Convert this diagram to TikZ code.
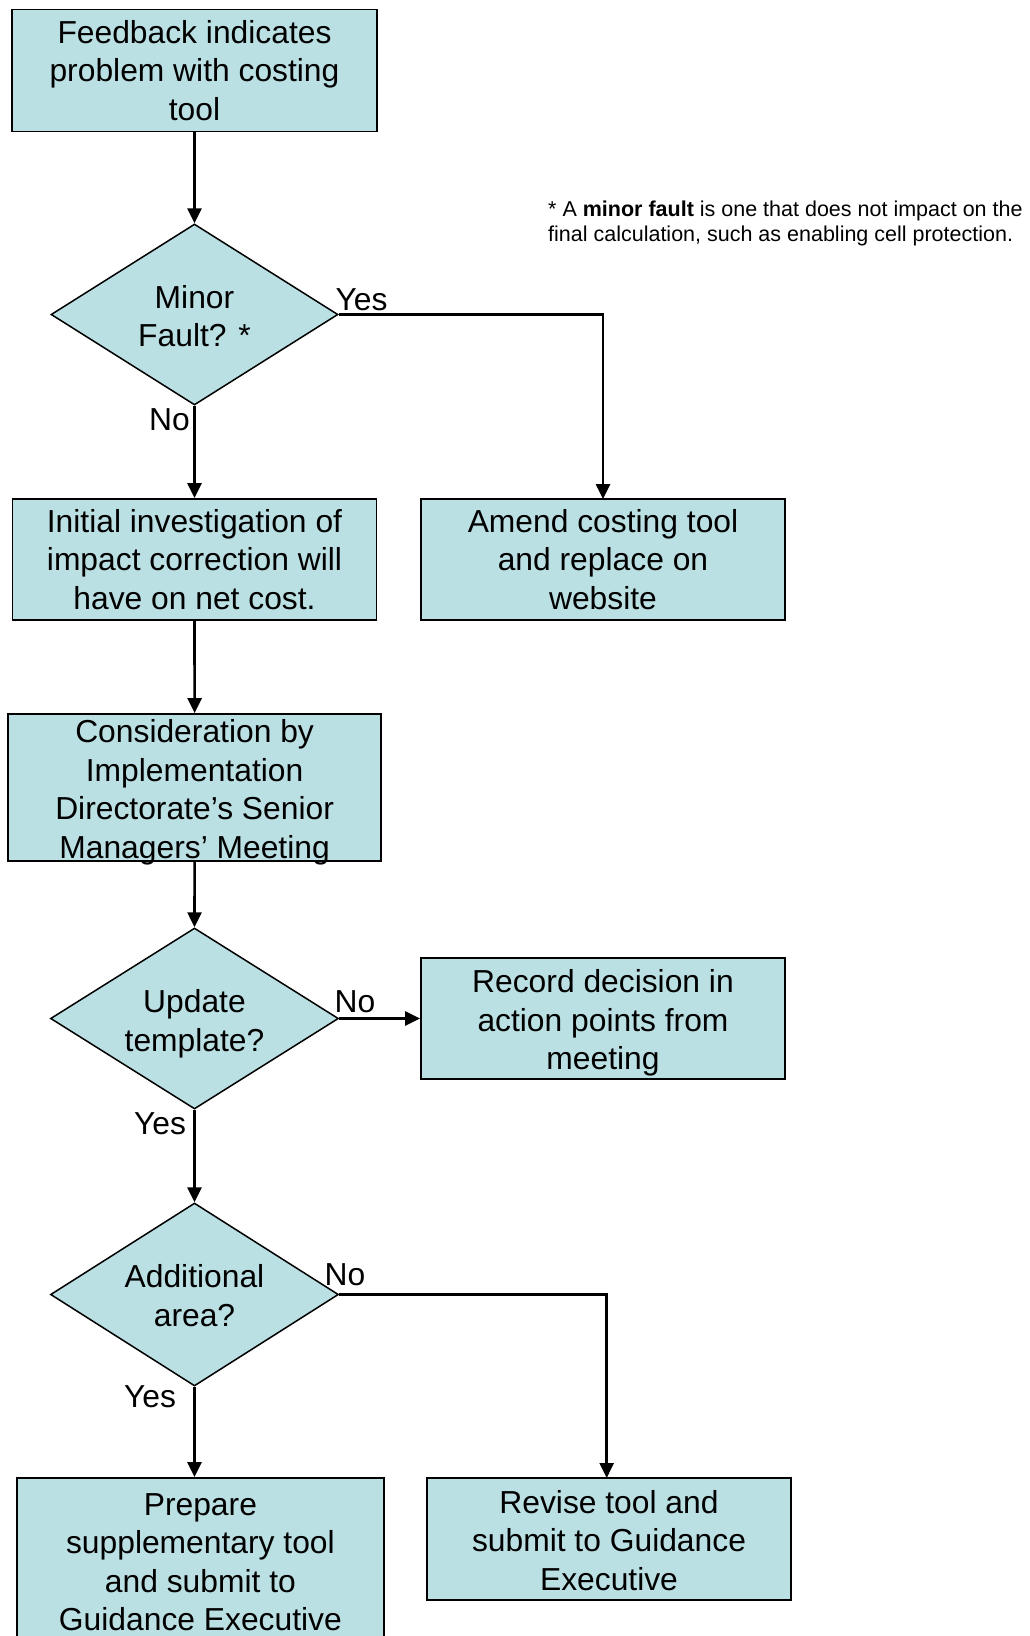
\documentclass[tikz,border=0pt]{standalone}
\usepackage{fontspec}
\setmainfont{Liberation Sans}
\usetikzlibrary{shapes.geometric,arrows.meta}
\definecolor{boxfill}{RGB}{187,224,227}
\tikzset{
  x=1pt,y=-1pt,
  mainfont/.style={font=\fontsize{31.8}{38.5}\selectfont},
  procbox/.style={draw=black,line width=1.8pt,fill=boxfill,rectangle,inner sep=0pt,align=center,mainfont},
  decbox/.style={draw=black,line width=1.5pt,fill=boxfill,diamond,aspect=1.59,inner sep=0pt,align=center,mainfont},
  arr/.style={draw=black,line width=2.6pt,-{Triangle[width=14pt,length=15pt]}},
  lbl/.style={inner sep=0pt,mainfont},
  txt/.style={inner sep=0pt,align=center,mainfont},
}
\begin{document}
\begin{tikzpicture}
\clip (0,0) rectangle (1029,1636);
\fill[white] (0,0) rectangle (1029,1636);

\node[procbox,minimum width=365pt,minimum height=122pt] (box1) at (194.5,70.5)
  {Feedback indicates\\problem with costing\\tool};
\node[decbox,minimum width=287pt,minimum height=181pt] (d1) at (194.5,314.5) {};
\node[txt] (d1t) at (194.5,316) {Minor\\Fault? *};
\node[procbox,minimum width=364pt,minimum height=121pt] (init) at (194.5,559.5)
  {Initial investigation of\\impact correction will\\have on net cost.};
\node[procbox,minimum width=364pt,minimum height=121pt] (amend) at (603,559.5)
  {Amend costing tool\\and replace on\\website};
\node[procbox,minimum width=373pt,minimum height=147pt] (cons) at (194.6,787.5) {};
\node[txt] (const) at (194.6,792.5)
  {Consideration by\\Implementation\\Directorate’s Senior\\Managers’ Meeting};
\node[decbox,minimum width=288pt,minimum height=181pt] (d2) at (194.5,1018.5) {};
\node[txt] (d2t) at (194.5,1024) {Update\\template?};
\node[procbox,minimum width=364pt,minimum height=121pt] (record) at (603,1018.5) {};
\node[txt] (recordt) at (603,1023) {Record decision in\\action points from\\meeting};
\node[decbox,minimum width=288pt,minimum height=183pt] (d3) at (194.5,1294.5) {};
\node[txt] (d3t) at (194.5,1295.5) {Additional\\area?};
\node[procbox,minimum width=367pt,minimum height=168pt] (prep) at (200.4,1562)
  {Prepare\\supplementary tool\\and submit to\\Guidance Executive};
\node[procbox,minimum width=364pt,minimum height=122pt] (rev) at (609,1539) {};
\node[txt] (revt) at (609,1540.5) {Revise tool and\\submit to Guidance\\Executive};

\node[anchor=west,align=left,inner sep=0pt,font=\fontsize{21.5}{25}\selectfont] (note) at (548,223.5)
  {* A \textbf{minor fault} is one that does not impact on the\\final calculation, such as enabling cell protection.};

\coordinate (amendin) at (603,499);
\coordinate (revin) at (606.7,1478);

\draw[arr] (box1.south) -- (d1.north);
\draw[arr] (d1.east) -| (amendin);
\draw[arr] (d1.south) -- (init.north);
\draw[arr] (init.south) -- (cons.north);
\draw[arr] (cons.south) -- (d2.north);
\draw[arr] (d2.east) -- (record.west);
\draw[arr] (d2.south) -- (d3.north);
\draw[arr] (d3.south) -- (d3.south |- prep.north);
\draw[arr] (d3.east) -| (revin);

\node[lbl] (l1) at (361.5,300) {Yes};
\node[lbl] (l2) at (169.5,420) {No};
\node[lbl] (l3) at (355,1002) {No};
\node[lbl] (l4) at (160,1124) {Yes};
\node[lbl] (l5) at (345,1275) {No};
\node[lbl] (l6) at (150,1397) {Yes};
\end{tikzpicture}
\end{document}
